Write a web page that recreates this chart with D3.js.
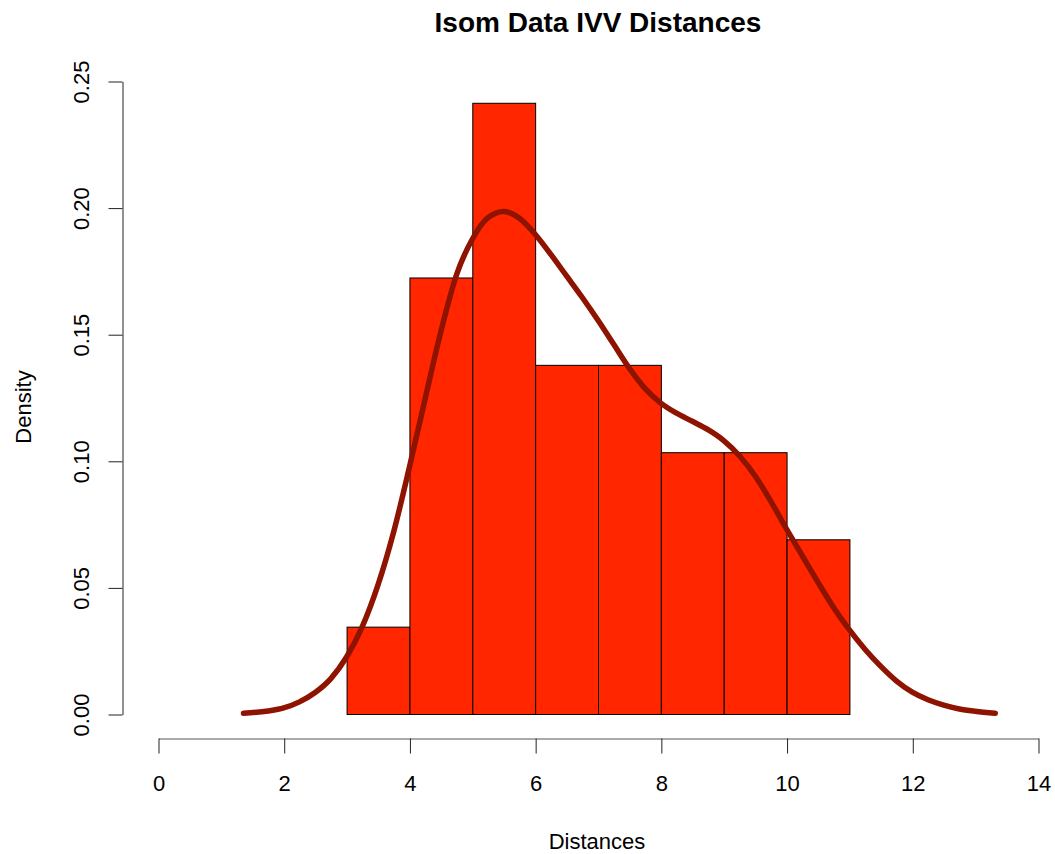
<!DOCTYPE html>
<html>
<head>
<meta charset="utf-8">
<script src="https://cdn.jsdelivr.net/npm/d3@7"></script>
<style>
  body { margin: 0; background: #fff; }
  text { font-family: "Liberation Sans", Arial, sans-serif; fill: #000; }
</style>
</head>
<body>
<svg id="chart" width="1055" height="854"></svg>
<script>
// histogram bins (left edge) and densities
const binStarts = [3, 4, 5, 6, 7, 8, 9, 10];
const binWidth = 1;
const densities = [0.0345, 0.1724, 0.2414, 0.1379, 0.1379, 0.1034, 0.1034, 0.0690];

// kernel density curve
const curveX = [1.36, 1.75, 2.0, 2.25, 2.5, 2.75, 3.0, 3.25, 3.5, 3.75, 4.0, 4.25, 4.5, 4.75, 5.0, 5.25, 5.5,
  5.75, 6.0, 6.25, 6.5, 6.75, 7.0, 7.25, 7.5, 7.75, 8.0, 8.25, 8.5, 8.75, 9.0, 9.25, 9.5, 9.75, 10.0,
  10.25, 10.5, 10.75, 11.0, 11.25, 11.5, 11.75, 12.0, 12.25, 12.5, 12.75, 13.0, 13.32];
const curveY = [0.0003, 0.0012, 0.0024, 0.0048, 0.0085, 0.0140, 0.0225, 0.0345, 0.0510, 0.0720, 0.0975, 0.1245, 0.1510, 0.1735, 0.1875, 0.1960, 0.1985,
  0.1958, 0.1895, 0.1815, 0.1730, 0.1645, 0.1555, 0.1460, 0.1365, 0.1285, 0.1228, 0.1188, 0.1156, 0.1123, 0.1080, 0.1020, 0.0940, 0.0840, 0.0730,
  0.0625, 0.0520, 0.0420, 0.0332, 0.0255, 0.0188, 0.0130, 0.0086, 0.0056, 0.0035, 0.0020, 0.0011, 0.0003];

const xTicks = [0, 2, 4, 6, 8, 10, 12, 14];
const yTicks = [0, 0.05, 0.10, 0.15, 0.20, 0.25];

const svg = d3.select("#chart");

const x = d3.scaleLinear().domain([0, 14]).range([158, 1038]);
const y = d3.scaleLinear().domain([0, 0.25]).range([714, 81]);

// bars
svg.selectAll("rect.bar")
  .data(binStarts)
  .enter().append("rect")
    .attr("class", "bar")
    .attr("x", d => x(d) + 0.5)
    .attr("y", (d, i) => y(densities[i]) + 0.5)
    .attr("width", d => x(d + binWidth) - x(d))
    .attr("height", (d, i) => y(0) - y(densities[i]))
    .attr("fill", "#ff2600")
    .attr("stroke", "#000")
    .attr("stroke-width", 1);

// density line
const line = d3.line()
  .x(d => x(d[0]))
  .y(d => y(d[1]))
  .curve(d3.curveMonotoneX);

svg.append("path")
  .datum(curveX.map((v, i) => [v, curveY[i]]))
  .attr("d", line)
  .attr("fill", "none")
  .attr("stroke", "#8e1300")
  .attr("stroke-width", 5.5)
  .attr("stroke-linecap", "round");

// x axis
const xAxis = svg.append("g")
  .attr("transform", "translate(0.5,738.5)")
  .call(d3.axisBottom(x).tickValues(xTicks).tickSize(15).tickSizeOuter(0).tickFormat(d3.format("d")));

xAxis.select(".domain").attr("stroke", "#555");
xAxis.selectAll(".tick line").attr("stroke", "#222");
xAxis.selectAll(".tick text")
  .attr("y", 52)
  .attr("dy", null)
  .style("font-size", "22px")
  .attr("fill", "#111");

// y axis
const yAxis = svg.append("g")
  .attr("transform", "translate(122.5,0.5)")
  .call(d3.axisLeft(y).tickValues(yTicks).tickSize(14).tickSizeOuter(0).tickFormat(d3.format(".2f")));

yAxis.select(".domain").attr("stroke", "#222");
yAxis.selectAll(".tick line").attr("stroke", "#222");
yAxis.selectAll(".tick text")
  .attr("x", null)
  .attr("dy", null)
  .attr("text-anchor", "middle")
  .attr("transform", "translate(-34,0) rotate(-90)")
  .style("font-size", "22px")
  .attr("fill", "#111");

// titles
svg.append("text")
  .attr("x", 598)
  .attr("y", 32)
  .attr("text-anchor", "middle")
  .style("font-size", "28px")
  .style("font-weight", "bold")
  .text("Isom Data IVV Distances");

svg.append("text")
  .attr("x", 597)
  .attr("y", 849)
  .attr("text-anchor", "middle")
  .style("font-size", "22px")
  .attr("fill", "#111")
  .text("Distances");

svg.append("text")
  .attr("transform", "translate(31,407) rotate(-90)")
  .attr("text-anchor", "middle")
  .style("font-size", "22px")
  .attr("fill", "#111")
  .text("Density");
</script>
</body>
</html>
